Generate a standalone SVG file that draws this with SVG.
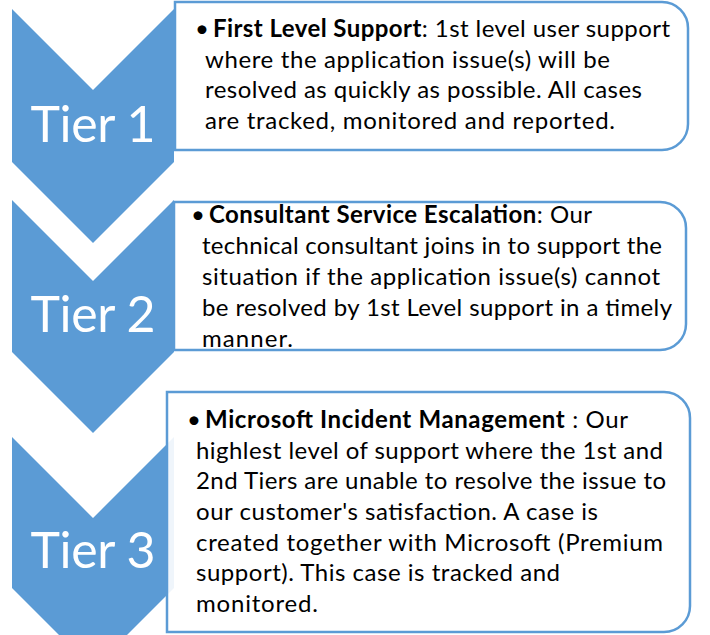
<svg xmlns="http://www.w3.org/2000/svg" width="710" height="635" viewBox="0 0 710 635">
<style>
.chev{fill:#5B9BD5}
.box{fill:#FFFFFF;fill-opacity:0.9;stroke:#5B9BD5;stroke-width:2.5}
.tier{font-family:Lato,"Liberation Sans",sans-serif;font-size:50px;fill:#FFFFFF;text-anchor:middle}
.t{font-family:Lato,"Liberation Sans",sans-serif;font-size:24px;fill:#000000}
.b{font-weight:bold}
</style>
<rect width="710" height="635" fill="#FFFFFF"/>
<g id="tier1">
<path class="chev" d="M12,9 L93,90 L174,9 L174,162 L93,243 L12,162 Z"/>
<text class="tier" x="93" y="142" textLength="125">Tier 1</text>
</g>
<g id="tier2">
<path class="chev" d="M12,200 L93,281 L174,200 L174,352 L93,433 L12,352 Z"/>
<text class="tier" x="93" y="332" textLength="125">Tier 2</text>
</g>
<g id="tier3">
<path class="chev" d="M12,437 L93,518 L174,437 L174,588 L93,669 L12,588 Z"/>
<text class="tier" x="93" y="568" textLength="125">Tier 3</text>
</g>
<g id="box1">
<path class="box" d="M175,2 H662 A26,26 0 0 1 688,28 V124 A26,26 0 0 1 662,150 H175 Z"/>
<text class="t" x="195" y="37">•</text>
<text class="t" x="213" y="37" textLength="457"><tspan class="b">First Level Support</tspan>: 1st level user support</text>
<text class="t" x="205" y="68" textLength="405">where the application issue(s) will be</text>
<text class="t" x="205" y="98" textLength="437">resolved as quickly as possible. All cases</text>
<text class="t" x="205" y="129" textLength="410">are tracked, monitored and reported.</text>
</g>
<g id="box2">
<path class="box" d="M174,202 H660 A26,26 0 0 1 686,228 V324 A26,26 0 0 1 660,350 H174 Z"/>
<text class="t" x="191" y="223">•</text>
<text class="t" x="209" y="223" textLength="383"><tspan class="b">Consultant Service Escalation</tspan>: Our</text>
<text class="t" x="202" y="254" textLength="460">technical consultant joins in to support the</text>
<text class="t" x="202" y="285" textLength="458">situation if the application issue(s) cannot</text>
<text class="t" x="202" y="316" textLength="470">be resolved by 1st Level support in a timely</text>
<text class="t" x="202" y="347" textLength="91">manner.</text>
</g>
<g id="box3">
<path class="box" d="M167,392 H664 A26,26 0 0 1 690,418 V606 A26,26 0 0 1 664,632 H167 Z"/>
<text class="t" x="187" y="428">•</text>
<text class="t" x="205" y="428" textLength="423"><tspan class="b">Microsoft Incident Management</tspan> : Our</text>
<text class="t" x="196" y="459" textLength="467">highlest level of support where the 1st and</text>
<text class="t" x="196" y="489" textLength="470">2nd Tiers are unable to resolve the issue to</text>
<text class="t" x="196" y="520" textLength="402">our customer's satisfaction. A case is</text>
<text class="t" x="196" y="551" textLength="467">created together with Microsoft (Premium</text>
<text class="t" x="196" y="581" textLength="364">support). This case is tracked and</text>
<text class="t" x="196" y="612" textLength="122">monitored.</text>
</g>
</svg>
